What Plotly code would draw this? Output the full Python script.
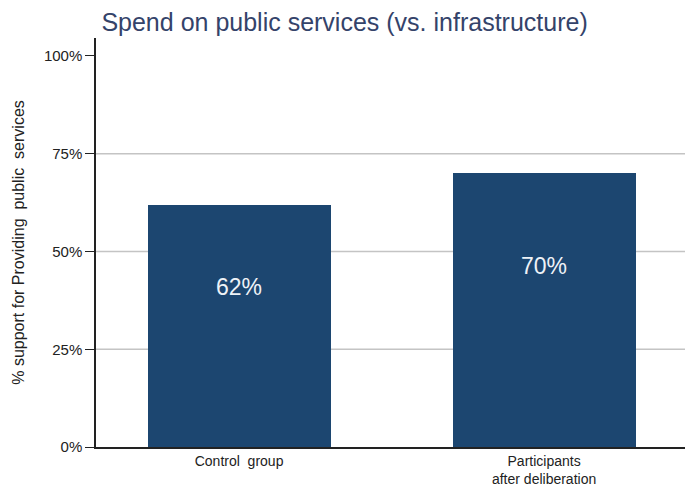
import plotly.graph_objects as go

categories = ["Control  group", "Participants<br>after deliberation"]
support = [0.62, 0.70]
value_labels = ["62%", "70%"]
y_ticks = [0, 0.25, 0.5, 0.75, 1.0]
y_tick_labels = ["0%", "25%", "50%", "75%", "100%"]

bar_color = "#1c4670"
font_family = "Liberation Sans, Arial, sans-serif"

fig = go.Figure()
fig.add_trace(go.Bar(
    x=[0, 1],
    y=support,
    width=0.6,
    marker=dict(color=bar_color, line=dict(width=0)),
    hoverinfo="skip",
))

# value labels placed inside each bar, about two thirds of the way up
for i, (v, lab) in enumerate(zip(support, value_labels)):
    fig.add_annotation(
        x=i, y=v * 0.66, text=lab, showarrow=False,
        font=dict(family=font_family, size=23, color="#eef2f7"),
        xref="x", yref="y",
    )

fig.update_layout(
    width=685, height=492,
    margin=dict(l=96, r=0, t=38, b=45),
    paper_bgcolor="white", plot_bgcolor="white",
    showlegend=False,
    bargap=0,
    font=dict(family=font_family, color="#222222"),
    title=dict(
        text="Spend on public services (vs. infrastructure)",
        x=0.503, xanchor="center", y=0.972, yanchor="top",
        font=dict(family=font_family, size=25, color="#34436a"),
    ),
)

fig.update_xaxes(
    range=[-0.469, 1.462],
    tickmode="array", tickvals=[0, 1], ticktext=categories,
    showgrid=False, zeroline=False,
    showline=True, linecolor="#222222", linewidth=1.5,
    ticks="", tickfont=dict(size=14, color="#222222"),
)

fig.update_yaxes(
    range=[0, 1.046],
    tickmode="array", tickvals=y_ticks, ticktext=y_tick_labels,
    showgrid=False, zeroline=False,
    showline=True, linecolor="#222222", linewidth=1.5,
    ticks="outside", ticklen=9, tickcolor="#222222",
    tickfont=dict(size=15, color="#222222"),
    title=dict(text="% support for Providing  public  services",
               font=dict(size=16, color="#222222"), standoff=15),
)

# horizontal reference lines at 25/50/75%
for g in [0.25, 0.5, 0.75]:
    fig.add_shape(type="line", xref="paper", yref="y",
                  x0=0, x1=1, y0=g, y1=g,
                  line=dict(color="#c4c4c4", width=1.5), layer="below")

fig.write_html("out.html")
